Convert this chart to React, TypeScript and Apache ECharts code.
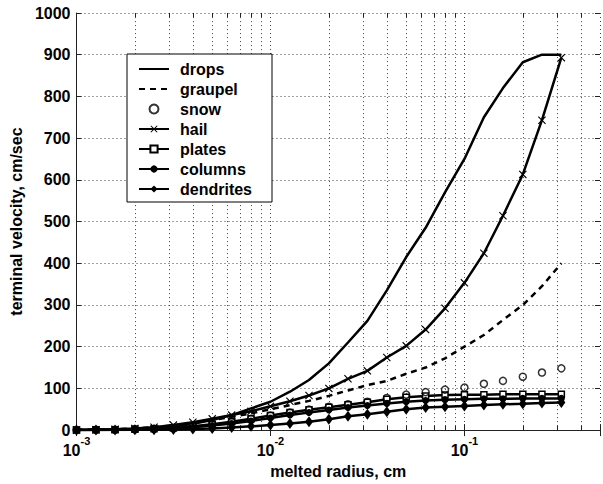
import React, { useEffect, useRef } from "react";
import * as echarts from "echarts";

const radius = [0.001, 0.00126, 0.00158, 0.002, 0.00251, 0.00316, 0.00398, 0.00501, 0.00631, 0.00794, 0.01, 0.0126, 0.0158, 0.02, 0.0251, 0.0316, 0.0398, 0.0501, 0.0631, 0.0794, 0.1, 0.126, 0.158, 0.2, 0.251, 0.316];
const drops = [0, 0.5, 1, 2, 4, 8, 15, 24, 36, 52, 68, 92, 120, 160, 210, 262, 335, 415, 485, 570, 650, 750, 820, 882, 900, 900];
const graupel = [1, 1.5, 2.5, 4, 7, 11, 17, 24, 32, 40, 50, 60, 70, 82, 95, 108, 118, 135, 150, 172, 200, 228, 264, 300, 345, 400];
const snow = [0.3, 0.6, 1, 2, 3, 5, 9, 14, 20, 27, 35, 42, 49, 56, 62, 68, 77, 85, 91, 97, 102, 111, 118, 128, 138, 148];
const hail = [0.5, 1, 2, 4, 7, 12, 19, 27, 36, 45, 57, 69, 83, 100, 123, 142, 174, 202, 241, 292, 353, 424, 514, 613, 743, 893];
const plates = [0.3, 0.6, 1, 2, 3, 5, 9, 14, 20, 27, 35, 42, 49, 55, 61, 67, 74, 79, 82, 84, 85, 85, 86, 86, 86, 86];
const columns = [0.2, 0.5, 0.8, 1.5, 2.5, 4, 7, 11, 16, 22, 29, 36, 42, 48, 54, 59, 64, 68, 71, 73, 74, 75, 75, 76, 76, 76];
const dendrites = [0.1, 0.2, 0.4, 0.7, 1, 1.5, 2.5, 4, 6, 9, 12, 16, 20, 26, 33, 38, 44, 50, 54, 56, 58, 60, 62, 63, 65, 66];
const minorGridX = [0.002, 0.003, 0.004, 0.005, 0.006, 0.007, 0.008, 0.009, 0.02, 0.03, 0.04, 0.05, 0.06, 0.07, 0.08, 0.09, 0.2, 0.3, 0.4];
const yTicks = { min: 0, max: 1000, interval: 100 };

const FONT = "'Liberation Sans', Arial, Helvetica, sans-serif";
const HAIL_X = "path://M1,0L5,4L9,0L10,1L6,5L10,9L9,10L5,6L1,10L0,9L4,5L0,1Z";

const pairs = (ys: number[]) => radius.map((r, i) => [r, ys[i]]);

export default function App() {
  const ref = useRef<HTMLDivElement>(null);
  useEffect(() => {
    const chart = echarts.init(ref.current!, null, { renderer: "svg" });
    const dotted = { color: "#444", width: 1, type: [1, 3] as any };
    const LW = 2.5;
    const lineBase = {
      type: "line" as const,
      color: "#000",
      lineStyle: { color: "#000", width: LW },
      showSymbol: true,
      symbolSize: 6,
      z: 3,
    };
    const noIcon = { color: "rgba(0,0,0,0)", borderWidth: 0 };
    const minorTickLines = minorGridX.flatMap((v) => [
      [{ coord: [v, 0] }, { coord: [v, 10] }],
      [{ coord: [v, 990] }, { coord: [v, 1000] }],
    ]);
    chart.setOption({
      animation: false,
      backgroundColor: "#fff",
      textStyle: { fontFamily: FONT },
      grid: { left: 69, top: 13, width: 537, height: 423, containLabel: false },
      legend: {
        orient: "vertical",
        left: 127,
        top: 54,
        padding: [5, 20, 3, 11],
        itemWidth: 30,
        itemHeight: 9,
        itemGap: 0,
        backgroundColor: "#fff",
        borderColor: "#000",
        borderWidth: 1,
        textStyle: { fontFamily: FONT, fontSize: 16, fontWeight: "bold", color: "#000", lineHeight: 20, padding: [0, 0, 0, 6] },
        data: [
          { name: "drops", itemStyle: noIcon },
          { name: "graupel", itemStyle: noIcon },
          "snow",
          "hail",
          "plates",
          "columns",
          "dendrites",
        ],
        z: 10,
      },
      xAxis: [
        {
          type: "log",
          logBase: 10,
          min: 0.001,
          max: 0.5,
          name: "melted radius, cm",
          nameLocation: "middle",
          nameGap: 31,
          nameTextStyle: { fontFamily: FONT, fontSize: 16, fontWeight: "bold", color: "#000" },
          axisLine: { show: true, lineStyle: { color: "#222", width: 1 } },
          axisTick: { show: true, inside: true, length: 6, lineStyle: { color: "#222" } },
          splitLine: { show: true, lineStyle: dotted },
          axisLabel: {
            margin: 5,
            formatter: (v: number) => {
              const l = Math.log10(v);
              const e = Math.round(l);
              if (Math.abs(l - e) > 1e-6 || e > -1) return "";
              return `{b|10}{s|-${Math.abs(e)}}`;
            },
            rich: {
              b: { fontFamily: FONT, fontSize: 16, fontWeight: "bold", color: "#000", lineHeight: 30 },
              s: { fontFamily: FONT, fontSize: 11, fontWeight: "bold", color: "#000", lineHeight: 8, verticalAlign: "top" },
            },
          },
        },
        {
          type: "log",
          logBase: 10,
          min: 0.001,
          max: 0.5,
          position: "top",
          axisLine: { show: true, lineStyle: { color: "#222", width: 1 } },
          axisTick: { show: true, inside: true, length: 6, lineStyle: { color: "#222" } },
          axisLabel: { show: false },
          splitLine: { show: false },
        },
      ],
      yAxis: [
        {
          type: "value",
          ...yTicks,
          name: "terminal velocity, cm/sec",
          nameLocation: "middle",
          nameGap: 48,
          nameTextStyle: { fontFamily: FONT, fontSize: 16, fontWeight: "bold", color: "#000" },
          axisLine: { show: true, lineStyle: { color: "#222", width: 1 } },
          axisTick: { show: true, inside: true, length: 5, lineStyle: { color: "#222" } },
          splitLine: { show: true, lineStyle: dotted },
          axisLabel: {
            margin: 6,
            fontFamily: FONT,
            fontSize: 16,
            fontWeight: "bold",
            color: "#000",
            formatter: (v: number) => String(v),
          },
        },
        {
          type: "value",
          ...yTicks,
          position: "right",
          axisLine: { show: false },
          axisTick: { show: true, inside: true, length: 5, lineStyle: { color: "#222" } },
          axisLabel: { show: false },
          splitLine: { show: false },
        },
      ],
      series: [
        {
          ...lineBase,
          name: "drops",
          symbol: "none",
          data: pairs(drops),
          markLine: {
            silent: true,
            symbol: "none",
            label: { show: false },
            lineStyle: dotted,
            emphasis: { disabled: true },
            z: 1,
            data: minorGridX.map((v) => [
              { coord: [v, 0] },
              { coord: [v, 1000] },
            ]),
          },
        },
        {
          ...lineBase,
          name: "graupel",
          symbol: "none",
          lineStyle: { color: "#000", width: LW, type: [6, 5] as any },
          data: pairs(graupel),
          markLine: {
            silent: true,
            symbol: "none",
            label: { show: false },
            lineStyle: { color: "#222", width: 1, type: "solid" },
            emphasis: { disabled: true },
            z: 1,
            data: minorTickLines,
          },
        },
        {
          type: "scatter",
          name: "snow",
          symbol: "circle",
          symbolSize: 7,
          itemStyle: { color: "rgba(255,255,255,0)", borderColor: "#000", borderWidth: 1.5 },
          data: pairs(snow),
          z: 4,
        },
        {
          ...lineBase,
          name: "hail",
          symbol: HAIL_X,
          symbolSize: 8,
          itemStyle: { color: "#000" },
          data: pairs(hail),
        },
        {
          ...lineBase,
          name: "plates",
          symbol: "rect",
          symbolSize: 6,
          itemStyle: { color: "#fff", borderColor: "#000", borderWidth: 1.5 },
          data: pairs(plates),
        },
        {
          ...lineBase,
          name: "columns",
          symbol: "circle",
          symbolSize: 7,
          itemStyle: { color: "#000" },
          data: pairs(columns),
        },
        {
          ...lineBase,
          name: "dendrites",
          symbol: "diamond",
          symbolSize: [8, 11],
          itemStyle: { color: "#000" },
          data: pairs(dendrites),
        },
      ],
    });
    return () => chart.dispose();
  }, []);
  return (
    <div
      ref={ref}
      style={{ position: "absolute", left: 0, top: 0, width: 603, height: 484, background: "#fff" }}
    />
  );
}
